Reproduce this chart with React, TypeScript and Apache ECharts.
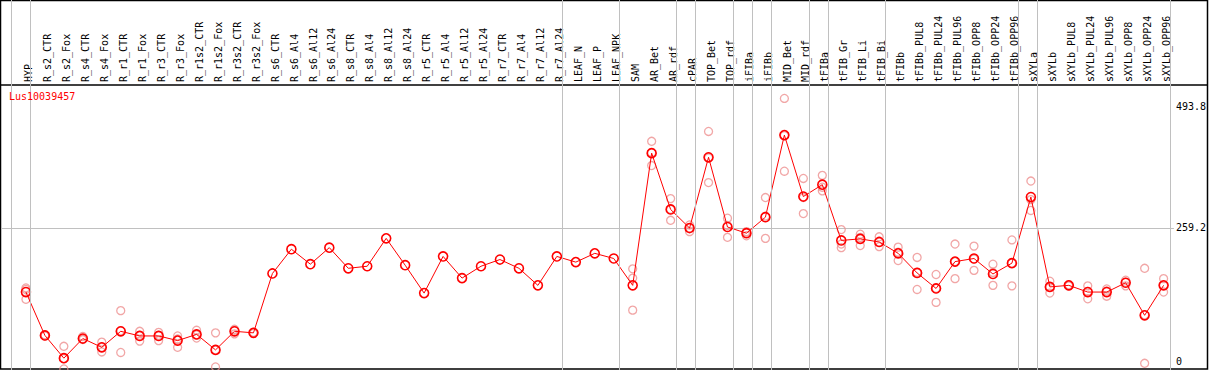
import React, { useEffect, useRef } from "react";
import * as echarts from "echarts";

const geneName = "Lus10039457";

const categories = [
  "HYP", "R_s2_CTR", "R_s2_Fox", "R_s4_CTR", "R_s4_Fox", "R_r1_CTR", "R_r1_Fox", "R_r3_CTR", "R_r3_Fox",
  "R_r1s2_CTR", "R_r1s2_Fox", "R_r3s2_CTR", "R_r3s2_Fox", "R_s6_CTR", "R_s6_Al4", "R_s6_Al12", "R_s6_Al24",
  "R_s8_CTR", "R_s8_Al4", "R_s8_Al12", "R_s8_Al24", "R_r5_CTR", "R_r5_Al4", "R_r5_Al12", "R_r5_Al24",
  "R_r7_CTR", "R_r7_Al4", "R_r7_Al12", "R_r7_Al24", "LEAF_N", "LEAF_P", "LEAF_NPK", "SAM", "AR_Bet", "AR_rdf",
  "cPAR", "TOP_Bet", "TOP_rdf", "iFIBa", "iFIBb", "MID_Bet", "MID_rdf", "tFIBa", "tFIB_Gr", "tFIB_Li", "tFIB_Bi",
  "tFIBb", "tFIBb_PUL8", "tFIBb_PUL24", "tFIBb_PUL96", "tFIBb_OPP8", "tFIBb_OPP24", "tFIBb_OPP96", "sXYLa",
  "sXYLb", "sXYLb_PUL8", "sXYLb_PUL24", "sXYLb_PUL96", "sXYLb_OPP8", "sXYLb_OPP24", "sXYLb_OPP96",
];

const means = [
  135, 51, 7, 45, 28, 59, 50, 50, 41, 53, 23, 59, 56, 171, 218, 189, 221, 181, 185, 239, 187, 133, 204, 162,
  185, 198, 181, 148, 204, 193, 210, 200, 148, 404, 295, 259, 396, 261, 249, 280, 439, 320, 343, 235, 238, 232,
  210, 172, 142, 194, 200, 170, 191, 319, 145, 148, 135, 135, 153, 90, 148,
];

const replicates: number[][] = [
  [140, 143, 121], [50, 52, 51], [30, 6, -14], [49, 43, 44], [38, 19, 28], [99, 18, 60], [59, 40, 51],
  [57, 41, 51], [50, 28, 44], [61, 46, 52], [56, -10, 23], [63, 54, 61], [55, 57, 56],
  [], [], [], [], [], [], [], [], [], [], [], [], [], [], [], [], [], [], [],
  [180, 162, 100], [427, 380, 405], [316, 274, 295], [265, 252, 259], [446, 347, 395], [278, 241, 264],
  [252, 244, 250], [318, 239, 282], [510, 369, 438], [355, 287, 318], [361, 331, 338], [256, 221, 228],
  [247, 225, 241], [242, 223, 232], [222, 196, 212], [202, 140, 173], [169, 115, 142], [228, 161, 194],
  [224, 177, 199], [189, 148, 173], [236, 147, 191], [350, 293, 314], [156, 133, 145], [147, 149, 148],
  [147, 122, 136], [141, 127, 137], [158, 147, 154], [181, -3, 91], [161, 135, 148],
];

const yTickLabels = [0, 259.2, 493.8];
const refLineValue = 259.2;
// indices of the last category in each group (-1 = before the first)
const groupEnds = [-1, 0, 28, 31, 34, 35, 37, 38, 39, 41, 42, 45, 52, 53, 60];

const FONT = "DejaVu Sans Mono";
const X_MIN = -1.315;
const X_MAX = 60.543;
const LABEL_SHIFT = 0.14; // rotated glyphs sit left of their anchor; compensate

export default function App() {
  const ref = useRef<HTMLDivElement>(null);
  useEffect(() => {
    document.body.style.margin = "0";
    const chart = echarts.init(ref.current!, null, { renderer: "svg" });
    const meanData = means.map((v, i) => [i, v]);
    const repData: number[][] = [];
    replicates.forEach((arr, i) => arr.forEach((v) => repData.push([i, v])));
    chart.setOption({
      animation: false,
      title: {
        text: geneName,
        left: 9,
        top: 91,
        padding: 0,
        textStyle: { color: "#ff0000", fontSize: 10, fontWeight: "normal", fontFamily: FONT },
      },
      grid: [
        { left: 1, right: 32, top: 85, bottom: 1 },
        { left: 1, right: 32, top: 0, bottom: 0 },
      ],
      xAxis: [
        {
          type: "value",
          gridIndex: 0,
          min: X_MIN,
          max: X_MAX,
          position: "top",
          axisLine: { show: false },
          axisTick: { show: false },
          splitLine: { show: false },
          axisLabel: {
            customValues: categories.map((_, i) => i + LABEL_SHIFT),
            rotate: 90,
            margin: 3,
            fontSize: 10,
            fontFamily: FONT,
            color: "#000",
            formatter: (v: number) => categories[Math.round(v - LABEL_SHIFT)] ?? "",
          },
        },
        { type: "value", gridIndex: 1, min: X_MIN, max: X_MAX, show: false },
      ],
      yAxis: [
        {
          type: "value",
          gridIndex: 0,
          min: -14,
          max: 536,
          position: "right",
          axisLine: { show: false },
          axisTick: { show: false },
          splitLine: { show: false },
          axisLabel: {
            customValues: yTickLabels,
            margin: 2,
            fontSize: 10,
            fontFamily: FONT,
            color: "#000",
            formatter: (v: number) => String(v),
          },
        },
        { type: "value", gridIndex: 1, min: 0, max: 1, show: false },
      ],
      series: [
        {
          type: "line",
          xAxisIndex: 1,
          yAxisIndex: 1,
          data: [],
          silent: true,
          markLine: {
            silent: true,
            symbol: "none",
            label: { show: false },
            lineStyle: { color: "#c0c0c0", width: 1, type: "solid" },
            data: groupEnds.map((g) => ({ xAxis: g + 0.21 })),
          },
        },
        {
          type: "scatter",
          xAxisIndex: 0,
          yAxisIndex: 0,
          data: repData,
          symbol: "circle",
          symbolSize: 8,
          itemStyle: { color: "rgba(0,0,0,0)", borderColor: "#ee9090", borderWidth: 1.3 },
          z: 3,
        },
        {
          type: "line",
          xAxisIndex: 0,
          yAxisIndex: 0,
          data: meanData,
          symbol: "circle",
          symbolSize: 9,
          showAllSymbol: true,
          lineStyle: { color: "#ff0000", width: 1 },
          itemStyle: { color: "rgba(0,0,0,0)", borderColor: "#ff0000", borderWidth: 1.6 },
          z: 4,
          markLine: {
            silent: true,
            symbol: "none",
            label: { show: false },
            lineStyle: { color: "#c0c0c0", width: 1, type: "solid" },
            data: [{ yAxis: refLineValue }],
            z: 1,
          },
        },
      ],
      graphic: [
        {
          type: "rect",
          shape: { x: 0.5, y: 0.5, width: 1207, height: 368.5 },
          style: { fill: "none", stroke: "#000", lineWidth: 1.5 },
          silent: true,
        },
        {
          type: "line",
          shape: { x1: 0, y1: 85, x2: 1208, y2: 85 },
          style: { stroke: "#000", lineWidth: 1.5 },
          silent: true,
        },
      ],
    });
    return () => chart.dispose();
  }, []);
  return (
    <div
      ref={ref}
      style={{ position: "absolute", left: 0, top: 0, width: 1209, height: 370, background: "#fff" }}
    />
  );
}
